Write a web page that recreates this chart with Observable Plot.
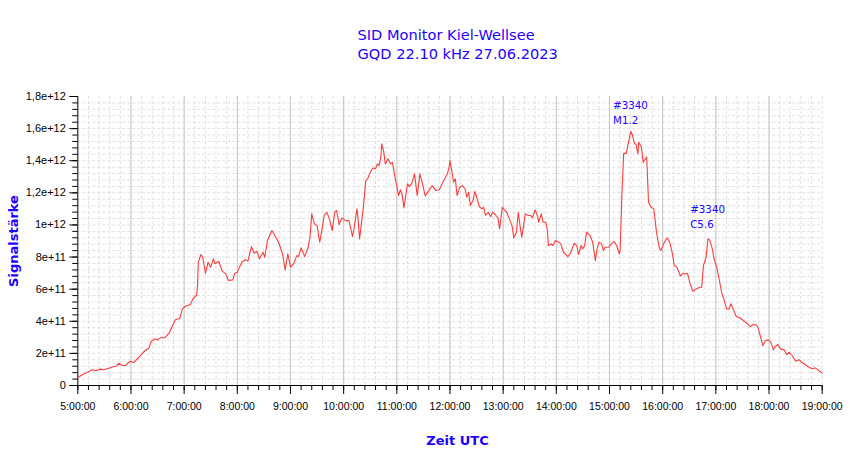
<!DOCTYPE html>
<html><head><meta charset="utf-8">
<script src="https://cdn.jsdelivr.net/npm/d3@7"></script>
<script src="https://cdn.jsdelivr.net/npm/@observablehq/plot@0.6"></script>
<style>
body{margin:0;background:#fff;}
#title{position:relative;height:68px;width:850px;font-family:"DejaVu Sans";font-size:14.6px;color:#1e00ff;}
#title div{position:absolute;left:357.5px;white-space:nowrap;line-height:1;}
</style></head><body>
<div id="title"><div style="top:28.3px">SID Monitor Kiel-Wellsee</div><div style="top:47px">GQD 22.10 kHz 27.06.2023</div></div>
<div id="chart"></div>
<script>
// ---- data (time UTC, signal in units of 1e11) ----
const times = ["5:00","5:07","5:11","5:16","5:20","5:26","5:29","5:35","5:41","5:44","5:46","5:50","5:54","5:59","6:03","6:09","6:14","6:18","6:20","6:23","6:27","6:30","6:33","6:38","6:43","6:46","6:50","6:55","6:58","7:01","7:07","7:10","7:12","7:14","7:15","7:16","7:19","7:21","7:24","7:27","7:30","7:33","7:35","7:39","7:43","7:47","7:50","7:55","7:57","8:00","8:05","8:09","8:12","8:16","8:19","8:22","8:25","8:29","8:31","8:34","8:39","8:43","8:47","8:51","8:54","8:57","9:00","9:04","9:07","9:09","9:12","9:16","9:20","9:22","9:24","9:27","9:30","9:33","9:36","9:38","9:41","9:44","9:47","9:50","9:52","9:55","9:58","10:02","10:06","10:10","10:12","10:15","10:16","10:18","10:20","10:22","10:25","10:27","10:30","10:33","10:36","10:38","10:40","10:42","10:43","10:45","10:47","10:50","10:53","10:55","10:58","11:02","11:04","11:06","11:08","11:12","11:14","11:17","11:20","11:23","11:26","11:29","11:32","11:36","11:40","11:44","11:48","11:52","11:57","11:59","12:00","12:02","12:04","12:06","12:08","12:11","12:14","12:17","12:19","12:21","12:23","12:26","12:28","12:31","12:33","12:36","12:38","12:40","12:43","12:46","12:48","12:51","12:54","12:56","12:59","13:02","13:04","13:07","13:10","13:12","13:15","13:17","13:19","13:21","13:23","13:25","13:28","13:31","13:33","13:36","13:39","13:40","13:43","13:45","13:48","13:50","13:51","13:54","13:56","13:59","14:03","14:05","14:08","14:13","14:16","14:20","14:23","14:25","14:28","14:30","14:32","14:34","14:38","14:41","14:44","14:46","14:48","14:51","14:53","14:55","14:59","15:02","15:05","15:08","15:11","15:12","15:14","15:16","15:19","15:21","15:24","15:26","15:28","15:30","15:32","15:33","15:36","15:38","15:39","15:42","15:44","15:47","15:50","15:53","15:56","15:58","16:01","16:05","16:08","16:11","16:13","16:16","16:20","16:23","16:25","16:28","16:31","16:34","16:38","16:42","16:44","16:46","16:49","16:51","16:53","16:56","16:58","17:01","17:04","17:07","17:09","17:12","17:15","17:17","17:20","17:23","17:27","17:31","17:35","17:39","17:42","17:46","17:48","17:51","17:53","17:56","17:59","18:02","18:05","18:07","18:10","18:13","18:17","18:20","18:23","18:26","18:30","18:34","18:37","18:41","18:45","18:49","18:52","18:56","19:00"];
const signalE11 = [0.5,0.73,0.83,0.98,0.93,1.02,0.98,1.08,1.18,1.22,1.39,1.25,1.25,1.51,1.43,1.76,2.07,2.26,2.30,2.76,2.91,2.84,2.97,2.97,3.26,3.63,4.09,4.17,4.77,4.92,5.04,5.40,5.54,5.60,6.12,7.68,8.16,7.99,6.99,7.68,7.37,7.89,7.58,7.74,7.12,6.95,6.54,6.58,6.99,7.06,7.68,7.83,7.76,8.65,8.24,8.36,7.89,8.30,7.99,9.03,9.65,9.28,8.86,8.20,7.20,8.20,7.37,7.62,8.09,8.03,8.57,8.03,8.61,9.23,10.69,10.07,9.96,8.92,9.86,10.59,10.79,10.38,9.65,10.79,10.90,10.02,10.44,10.27,10.27,9.28,9.86,11.00,10.52,9.13,10.07,11.00,12.76,12.87,13.28,13.55,13.50,13.80,13.70,14.22,15.05,14.63,13.80,14.12,13.80,13.90,12.97,11.83,12.19,11.90,11.06,12.56,12.39,12.60,13.18,11.83,13.18,12.56,11.81,12.14,12.45,12.14,12.19,12.66,13.18,13.59,14.01,13.39,12.66,12.87,11.83,12.35,12.45,12.24,11.73,12.04,11.21,11.52,12.10,11.56,11.15,11.00,11.10,10.59,10.79,10.52,10.79,10.65,10.44,9.76,11.10,10.90,10.79,10.38,9.96,9.20,9.55,10.79,9.96,9.23,9.96,10.69,10.59,10.59,10.44,10.94,10.52,10.17,10.69,10.17,10.17,9.65,8.72,8.82,8.72,9.03,8.92,8.82,8.30,8.03,8.24,8.86,8.72,8.16,8.72,8.51,8.72,9.55,9.34,8.92,7.78,8.51,8.92,8.82,8.41,8.61,8.61,8.82,8.98,8.72,8.20,8.41,11.94,14.46,14.46,15.05,15.83,15.57,15.09,15.00,14.42,15.15,14.84,13.90,14.01,14.22,11.41,11.10,11.00,9.55,8.61,8.41,8.82,9.20,8.92,8.20,7.47,7.37,6.82,6.99,6.95,6.99,6.33,5.87,6.02,6.12,6.12,7.47,7.99,9.13,9.07,8.51,7.89,7.37,6.54,5.67,5.40,4.77,4.77,5.09,4.71,4.30,4.22,4.05,3.88,3.67,3.80,3.76,3.53,2.91,2.49,2.80,2.84,2.70,2.22,2.43,2.55,2.28,2.22,1.93,2.07,1.87,1.51,1.60,1.45,1.29,1.14,1.04,1.10,0.93,0.77];

// flare annotations
const annotTimes = ["15:04","16:31"];
const annotTopE11 = [17.87, 11.40];
const annotLabels = ["#3340\nM1.2","#3340\nC5.6"];

// axis ticks
const xTickHours = ["5:00","6:00","7:00","8:00","9:00","10:00","11:00","12:00","13:00","14:00","15:00","16:00","17:00","18:00","19:00"];
const yTickValues = [0,2e11,4e11,6e11,8e11,1e12,1.2e12,1.4e12,1.6e12,1.8e12];

const parse = d3.utcParse("%H:%M");
const data = times.map((t,i)=>({t: parse(t), v: signalE11[i]*1e11}));
const annots = annotTimes.map((t,i)=>({t: parse(t), v: annotTopE11[i]*1e11, label: annotLabels[i]}));
const hourTicks = xTickHours.map(parse);
const x0 = hourTicks[0], x1 = hourTicks[hourTicks.length-1];
const minorX = d3.utcMinute.every(12).range(x0, new Date(+x1 + 1));
const yMinor = d3.range(0, 46).map(i => i*4e10);
const yFormat = v => v === 0 ? "0" : d3.format(".2~e")(v).replace(".", ",");
const blue = "#1e00ff";

const chart = Plot.plot({
  width: 850, height: 391,
  marginLeft: 77.3, marginRight: 28.3, marginTop: 28, marginBottom: 74,
  x: {type: "utc", domain: [x0, x1], label: null},
  y: {domain: [0, 1.8e12], label: null},
  style: {fontFamily: "Liberation Sans", fontSize: "11px", color: "black", background: "white", overflow: "visible"},
  marks: [
    Plot.gridY(yMinor.filter(v => v > 0 && v < 1.8e12), {stroke: "#e0e0e0", strokeOpacity: 1, strokeDasharray: "3,2"}),
    Plot.gridX(minorX.slice(1), {stroke: "#e0e0e0", strokeOpacity: 1, strokeDasharray: "3,2"}),
    Plot.gridX(hourTicks.slice(1, -1), {stroke: "#c6c6c6", strokeOpacity: 1}),
    Plot.axisY(yMinor, {tickSize: 5, tickFormat: () => "", fill: "none", label: null}),
    Plot.axisY(yTickValues, {tickSize: 8, tickPadding: 4, tickFormat: yFormat, label: null, fontSize: 11}),
    Plot.axisX(minorX, {tickSize: 5, tickFormat: () => "", fill: "none", label: null}),
    Plot.axisX(hourTicks, {tickSize: 9, tickPadding: 8, tickFormat: d3.utcFormat("%-H:%M:%S"), label: null, fontSize: 10.5}),
    Plot.ruleX([x0], {stroke: "black"}),
    Plot.ruleY([0], {stroke: "black"}),
    Plot.line(data, {x: "t", y: "v", stroke: "#ff3c3c", strokeWidth: 1.1}),
    Plot.text(annots, {x: "t", y: "v", text: "label", textAnchor: "start", lineAnchor: "top", lineHeight: 1.43, fill: blue, fontSize: 10.3, fontFamily: "DejaVu Sans"}),
    Plot.text(["Signalstärke"], {frameAnchor: "left", textAnchor: "middle", lineAnchor: "middle", dx: -64, rotate: -90, fill: blue, fontWeight: "bold", fontSize: 13, fontFamily: "DejaVu Sans"}),
    Plot.text(["Zeit UTC"], {frameAnchor: "bottom", lineAnchor: "middle", dx: 7.5, dy: 55, fill: blue, fontWeight: "bold", fontSize: 13, fontFamily: "DejaVu Sans"})
  ]
});
document.getElementById("chart").appendChild(chart);
</script>
</body></html>
